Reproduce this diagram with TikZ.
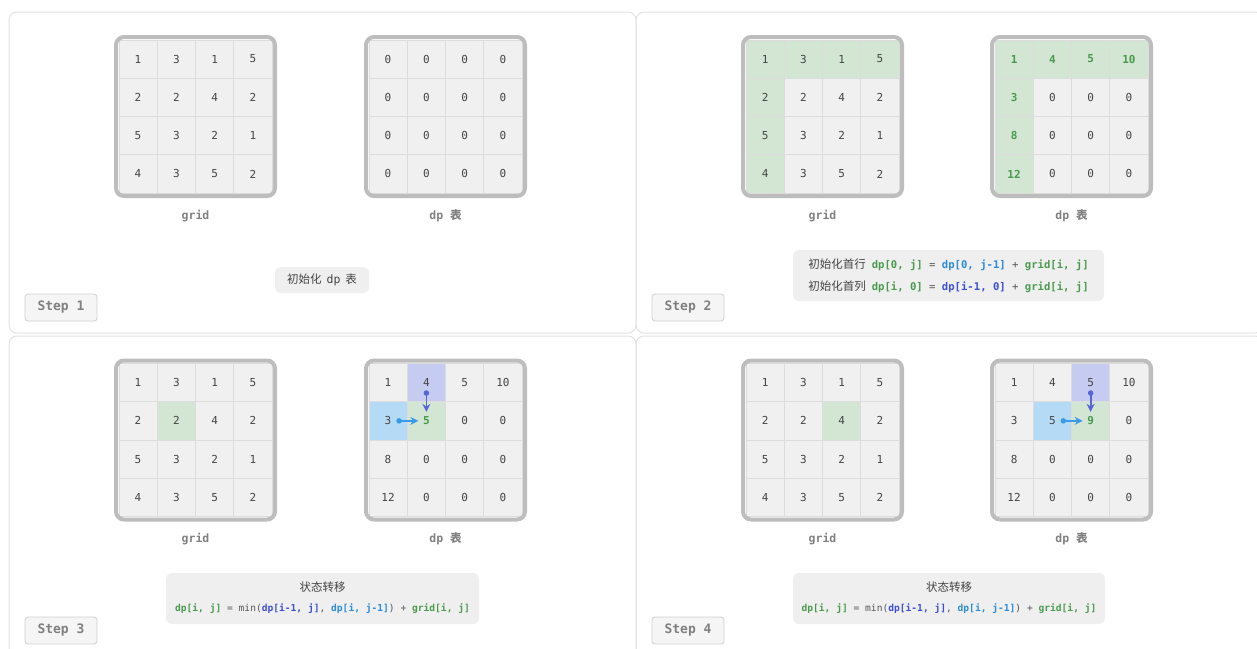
\documentclass[tikz,border=0pt]{standalone}
\usepackage{fontspec}
\setmainfont{Noto Sans}
\setmonofont{DejaVu Sans Mono}
\newfontfamily\cjk{Noto Sans CJK SC}
\usetikzlibrary{arrows.meta,calc}
\definecolor{panelline}{HTML}{E2E2E2}
\definecolor{cellgray}{HTML}{F0F0F0}
\definecolor{cellline}{HTML}{DCDCDC}
\definecolor{bordergray}{HTML}{BDBDBD}
\definecolor{numcol}{HTML}{444444}
\definecolor{labgray}{HTML}{808080}
\definecolor{gfill}{HTML}{D2E6D3}
\definecolor{bfill}{HTML}{B5DAF5}
\definecolor{pfill}{HTML}{C6CCF1}
\definecolor{gtext}{HTML}{4A9A4E}
\definecolor{btext}{HTML}{2B8BD8}
\definecolor{itext}{HTML}{3C4FD3}
\definecolor{harrow}{HTML}{3A9AE8}
\definecolor{varrow}{HTML}{5766D6}
\definecolor{boxfill}{HTML}{EFEFEF}
\definecolor{btnfill}{HTML}{F5F5F5}
\definecolor{btnline}{HTML}{CFCFCF}
\definecolor{optext}{HTML}{555555}
\tikzset{
  panel/.style={draw=panelline, line width=1pt, rounded corners=8pt},
  cell/.style={minimum size=38.3pt, inner sep=0pt, draw=cellline, line width=0.8pt,
    fill=cellgray, text=numcol, font=\fontsize{11}{13}\selectfont\ttfamily},
  cN/.style={},
  cG/.style={fill=gfill},
  cB/.style={fill=bfill},
  cP/.style={fill=pfill},
  cH/.style={fill=gfill, text=gtext, font=\fontsize{11}{13}\selectfont\ttfamily\bfseries},
  gridborder/.style={draw=bordergray, line width=4pt, rounded corners=8pt},
  lab/.style={text=labgray, font=\fontsize{11.5}{13}\selectfont\ttfamily\bfseries},
  infobox/.style={fill=boxfill, rounded corners=6pt, inner sep=0pt},
  stepbtn/.style={fill=btnfill, draw=btnline, line width=0.8pt, rounded corners=3pt,
    minimum width=72pt, minimum height=27pt, inner sep=0pt, text=labgray,
    font=\fontsize{13}{15}\selectfont\ttfamily\bfseries},
  arrowh/.style={draw=harrow, line width=1.7pt, -{Stealth[length=8pt,width=8pt]}},
  arrowv/.style={draw=varrow, line width=1.7pt, -{Stealth[length=8pt,width=8pt]}},
  doth/.style={fill=harrow},
  dotv/.style={fill=varrow},
}
\newcommand\tgreen[1]{\textcolor{gtext}{\bfseries #1}}
\newcommand\tblue[1]{\textcolor{btext}{\bfseries #1}}
\newcommand\tind[1]{\textcolor{itext}{\bfseries #1}}
\newcommand\topr[1]{{\color{optext}#1}}
\newcommand\drawgrid[4]{%
  \foreach \v/\s [count=\k from 0, evaluate=\k as \ri using {int(\k/4)}, evaluate=\k as \ci using {int(mod(\k,4))}] in {#4}
    \node[cell,\s] (#1-\ri-\ci) at ({#2+(\ci-1.5)*38.3},{#3+(\ri-1.5)*38.3}) {\v};
  \draw[gridborder] ({#2-79.5},{#3-79.5}) rectangle ({#2+79.5},{#3+79.5});
}
\begin{document}
\begin{tikzpicture}[x=1pt,y=-1pt]
\useasboundingbox (0,0) rectangle (1257,648);
\clip (0,0) rectangle (1257,648);
% panels
\draw[panel] (9,12) rectangle (636,333);
\draw[panel] (636,12) rectangle (1263,333);
\draw[panel] (9,336) rectangle (636,660);
\draw[panel] (636,336) rectangle (1263,660);

% ---------- Step 1
\drawgrid{ga}{195.5}{116.5}{1/cN,3/cN,1/cN,5/cN,2/cN,2/cN,4/cN,2/cN,5/cN,3/cN,2/cN,1/cN,4/cN,3/cN,5/cN,2/cN}
\drawgrid{da}{445.5}{116.5}{0/cN,0/cN,0/cN,0/cN,0/cN,0/cN,0/cN,0/cN,0/cN,0/cN,0/cN,0/cN,0/cN,0/cN,0/cN,0/cN}
\node[lab] (gla) at (195.5,216) {grid};
\node[lab] (dla) at (445.5,216) {dp {\cjk 表}};
\node[infobox, minimum width=94pt, minimum height=26pt, text=numcol] (boxa) at (322,280)
  {\fontsize{11.5}{13}\selectfont{\cjk 初始化}\hspace{5pt}\texttt{dp}\hspace{5pt}{\cjk 表}};
\node[stepbtn] (stepa) at (61,307.5) {Step 1};

% ---------- Step 2
\drawgrid{gb}{822.5}{116.5}{1/cG,3/cG,1/cG,5/cG,2/cG,2/cN,4/cN,2/cN,5/cG,3/cN,2/cN,1/cN,4/cG,3/cN,5/cN,2/cN}
\drawgrid{db}{1071.5}{116.5}{1/cH,4/cH,5/cH,10/cH,3/cH,0/cN,0/cN,0/cN,8/cH,0/cN,0/cN,0/cN,12/cH,0/cN,0/cN,0/cN}
\node[lab] (glb) at (822.5,216) {grid};
\node[lab] (dlb) at (1071.5,216) {dp {\cjk 表}};
\node[infobox, minimum width=311pt, minimum height=51pt] (boxb) at (948.5,275.5) {};
\node[text=numcol, inner sep=0pt] (tb1) at ($(boxb.center)+(0,-10.5)$)
  {{\fontsize{11.5}{13}\selectfont\cjk 初始化首行}\hspace{6pt}{\fontsize{10.6}{12}\selectfont\ttfamily\tgreen{dp[0, j]}\topr{\ =\ }\tblue{dp[0, j-1]}\topr{\ +\ }\tgreen{grid[i, j]}}};
\node[text=numcol, inner sep=0pt] (tb2) at ($(boxb.center)+(0,11.5)$)
  {{\fontsize{11.5}{13}\selectfont\cjk 初始化首列}\hspace{6pt}{\fontsize{10.6}{12}\selectfont\ttfamily\tgreen{dp[i, 0]}\topr{\ =\ }\tind{dp[i-1, 0]}\topr{\ +\ }\tgreen{grid[i, j]}}};
\node[stepbtn] (stepb) at (688,307.5) {Step 2};

% ---------- Step 3
\drawgrid{gc}{195.5}{440}{1/cN,3/cN,1/cN,5/cN,2/cN,2/cG,4/cN,2/cN,5/cN,3/cN,2/cN,1/cN,4/cN,3/cN,5/cN,2/cN}
\drawgrid{dc}{445.5}{440}{1/cN,4/cP,5/cN,10/cN,3/cB,5/cH,0/cN,0/cN,8/cN,0/cN,0/cN,0/cN,12/cN,0/cN,0/cN,0/cN}
\coordinate (chs) at ($(dc-1-0.center)+(11,0)$);
\coordinate (che) at ($(dc-1-1.center)+(-8,0)$);
\coordinate (cvs) at ($(dc-0-1.center)+(0,10.5)$);
\coordinate (cve) at ($(dc-1-1.center)+(0,-9)$);
\draw[arrowh] (chs) -- (che);
\fill[doth] (chs) circle (2.8pt);
\draw[arrowv] (cvs) -- (cve);
\fill[dotv] (cvs) circle (2.8pt);
\node[lab] (glc) at (195.5,539) {grid};
\node[lab] (dlc) at (445.5,539) {dp {\cjk 表}};
\node[infobox, minimum width=313pt, minimum height=51pt] (boxc) at (322.5,598.5) {};
\node[text=numcol, inner sep=0pt] (tc1) at ($(boxc.center)+(0,-11)$)
  {\fontsize{11.5}{13}\selectfont\cjk 状态转移};
\node[text=numcol, inner sep=0pt] (tc2) at ($(boxc.center)+(0,10)$)
  {\fontsize{9.6}{11}\selectfont\ttfamily\tgreen{dp[i, j]}\topr{\ =\ min(}\tind{dp[i-1, j]}\topr{,\ }\tblue{dp[i, j-1]}\topr{)\ +\ }\tgreen{grid[i, j]}};
\node[stepbtn] (stepc) at (61,630.5) {Step 3};

% ---------- Step 4
\drawgrid{gd}{822.5}{440}{1/cN,3/cN,1/cN,5/cN,2/cN,2/cN,4/cG,2/cN,5/cN,3/cN,2/cN,1/cN,4/cN,3/cN,5/cN,2/cN}
\drawgrid{dd}{1071.5}{440}{1/cN,4/cN,5/cP,10/cN,3/cN,5/cB,9/cH,0/cN,8/cN,0/cN,0/cN,0/cN,12/cN,0/cN,0/cN,0/cN}
\coordinate (dhs) at ($(dd-1-1.center)+(11,0)$);
\coordinate (dhe) at ($(dd-1-2.center)+(-8,0)$);
\coordinate (dvs) at ($(dd-0-2.center)+(0,10.5)$);
\coordinate (dve) at ($(dd-1-2.center)+(0,-9)$);
\draw[arrowh] (dhs) -- (dhe);
\fill[doth] (dhs) circle (2.8pt);
\draw[arrowv] (dvs) -- (dve);
\fill[dotv] (dvs) circle (2.8pt);
\node[lab] (gld) at (822.5,539) {grid};
\node[lab] (dld) at (1071.5,539) {dp {\cjk 表}};
\node[infobox, minimum width=312pt, minimum height=51pt] (boxd) at (949,598.5) {};
\node[text=numcol, inner sep=0pt] (td1) at ($(boxd.center)+(0,-11)$)
  {\fontsize{11.5}{13}\selectfont\cjk 状态转移};
\node[text=numcol, inner sep=0pt] (td2) at ($(boxd.center)+(0,10)$)
  {\fontsize{9.6}{11}\selectfont\ttfamily\tgreen{dp[i, j]}\topr{\ =\ min(}\tind{dp[i-1, j]}\topr{,\ }\tblue{dp[i, j-1]}\topr{)\ +\ }\tgreen{grid[i, j]}};
\node[stepbtn] (stepd) at (688,630.5) {Step 4};
\end{tikzpicture}
\end{document}
